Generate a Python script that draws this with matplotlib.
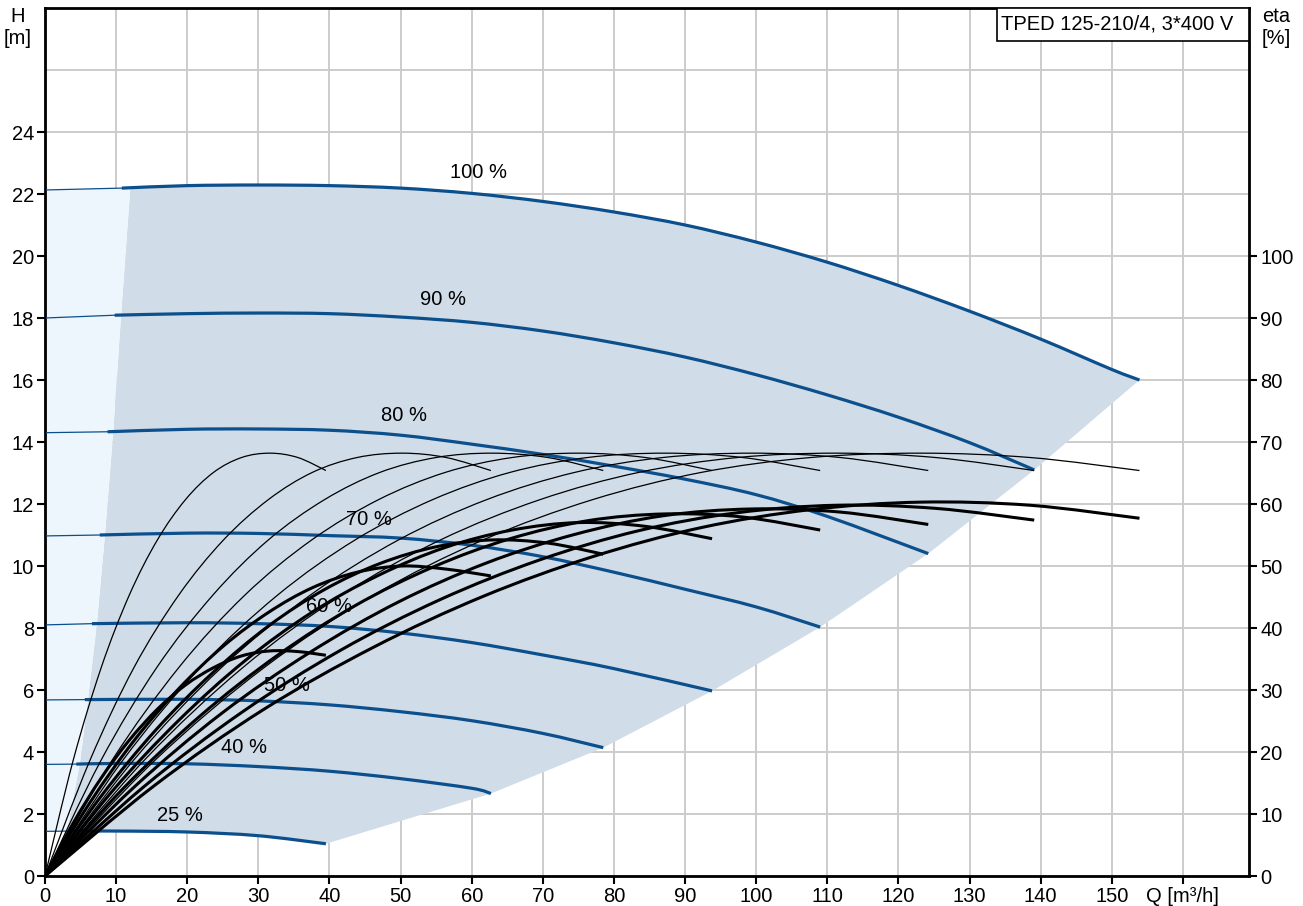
import matplotlib.pyplot as plt
import numpy as np
from matplotlib.patches import Rectangle, PathPatch
from matplotlib.path import Path

plt.rcParams['font.family'] = ['Liberation Sans', 'DejaVu Sans']

# speed curves: Q [m3/h], H [m]
speeds = ['100 %', '90 %', '80 %', '70 %', '60 %', '50 %', '40 %', '25 %']
q_100 = [0, 10.8, 20, 30, 40, 50, 60, 70, 80, 90, 100, 110, 120, 130, 140, 150, 153.9]
h_100 = [22.13, 22.19, 22.27, 22.29, 22.27, 22.19, 22.02, 21.76, 21.42, 21.0, 20.45, 19.8, 19.05, 18.22, 17.32, 16.34, 16.0]
q_90 = [0, 9.8, 20, 30, 40, 50, 60, 70, 80, 90, 100, 110, 120, 130, 139.1]
h_90 = [18.0, 18.09, 18.14, 18.16, 18.14, 18.03, 17.86, 17.58, 17.2, 16.74, 16.17, 15.52, 14.8, 13.98, 13.1]
q_80 = [0, 8.8, 20, 30, 40, 50, 60, 70, 80, 90, 100, 110, 124.2]
h_80 = [14.3, 14.33, 14.41, 14.42, 14.38, 14.22, 13.93, 13.6, 13.22, 12.8, 12.3, 11.6, 10.4]
q_70 = [0, 7.7, 20, 30, 40, 50, 60, 70, 80, 90, 100, 109]
h_70 = [10.97, 11.0, 11.06, 11.05, 10.98, 10.9, 10.67, 10.3, 9.8, 9.25, 8.68, 8.03]
q_60 = [0, 6.6, 20, 30, 40, 50, 60, 70, 80, 93.8]
h_60 = [8.1, 8.14, 8.17, 8.14, 8.05, 7.84, 7.53, 7.13, 6.69, 5.97]
q_50 = [0, 5.6, 20, 30, 40, 50, 60, 70, 78.5]
h_50 = [5.68, 5.69, 5.70, 5.65, 5.52, 5.3, 5.01, 4.6, 4.14]
q_40 = [0, 4.4, 10, 20, 30, 40, 50, 60, 62.7]
h_40 = [3.6, 3.61, 3.63, 3.62, 3.53, 3.38, 3.14, 2.83, 2.66]
q_25 = [0, 3.9, 10, 20, 30, 39.5]
h_25 = [1.44, 1.45, 1.45, 1.42, 1.3, 1.04]

# where each speed label sits (Q, H)
label_q = [61, 56, 50.5, 45.5, 40, 34, 28, 19]
label_h = [22.7, 18.6, 14.85, 11.5, 8.7, 6.15, 4.15, 1.95]

# min / max flow limits of the operating area
qmin_q = [3.1, 4.9, 6.05, 7.3, 8.45, 9.6, 10.7, 12.0]
qmin_h = [1.45, 3.62, 5.7, 8.15, 11.05, 14.35, 18.1, 22.2]
qmax_q = [153.9, 139.1, 124.2, 109, 93.8, 78.5, 62.7, 39.5]
qmax_h = [16.0, 13.1, 10.4, 8.03, 5.97, 4.14, 2.66, 1.04]

# efficiency curves eta [%], pump (thin) and total (thick)
eq_100 = [0, 15.4, 30.8, 46.2, 61.6, 77.0, 92.3, 107.7, 123.1, 138.5, 153.9]
eq_90 = [0, 13.9, 27.8, 41.7, 55.6, 69.6, 83.5, 97.4, 111.3, 125.2, 139.1]
eq_80 = [0, 12.4, 24.8, 37.3, 49.7, 62.1, 74.5, 86.9, 99.4, 111.8, 124.2]
eq_70 = [0, 10.9, 21.8, 32.7, 43.6, 54.5, 65.4, 76.3, 87.2, 98.1, 109]
eq_60 = [0, 9.4, 18.8, 28.1, 37.5, 46.9, 56.3, 65.7, 75.0, 84.4, 93.8]
eq_50 = [0, 7.85, 15.7, 23.6, 31.4, 39.3, 47.1, 55.0, 62.8, 70.7, 78.5]
eq_40 = [0, 6.3, 12.5, 18.8, 25.1, 31.4, 37.6, 43.9, 50.2, 56.4, 62.7]
eq_25 = [0, 3.95, 7.9, 11.85, 15.8, 19.75, 23.7, 27.65, 31.6, 35.55, 39.5]
eta_pump = [0, 18.6, 33.6, 45.3, 54.2, 60.7, 65.1, 67.5, 68.2, 67.5, 65.4]
eta_tot_100 = [0, 14.6, 26.9, 36.9, 45.1, 51.5, 56.2, 59.1, 60.3, 59.8, 57.7]
eta_tot_90 = [0, 14.4, 26.5, 36.5, 44.6, 51.0, 55.7, 58.6, 59.8, 59.3, 57.4]
eta_tot_80 = [0, 14.2, 26.2, 36.1, 44.2, 50.5, 55.1, 58.1, 59.2, 58.7, 56.7]
eta_tot_70 = [0, 14.0, 25.8, 35.6, 43.6, 49.8, 54.4, 57.3, 58.4, 57.9, 55.8]
eta_tot_60 = [0, 13.6, 25.1, 34.7, 42.5, 48.5, 53.0, 55.8, 57.0, 56.4, 54.4]
eta_tot_50 = [0, 12.8, 23.7, 32.8, 40.3, 46.2, 50.4, 53.1, 54.2, 53.7, 51.9]
eta_tot_40 = [0, 11.8, 21.8, 30.2, 37.1, 42.5, 46.5, 49.0, 50.0, 49.5, 48.4]
eta_tot_25 = [0, 8.5, 15.8, 21.9, 26.9, 30.8, 33.6, 35.5, 36.3, 36.2, 35.6]

h_curves = [(q_100, h_100), (q_90, h_90), (q_80, h_80), (q_70, h_70),
            (q_60, h_60), (q_50, h_50), (q_40, h_40), (q_25, h_25)]
eta_q = [eq_100, eq_90, eq_80, eq_70, eq_60, eq_50, eq_40, eq_25]
eta_tot = [eta_tot_100, eta_tot_90, eta_tot_80, eta_tot_70,
           eta_tot_60, eta_tot_50, eta_tot_40, eta_tot_25]

BLUE = '#0b4f8c'
FS = 14.5


def smooth(ax, x, y, **kw):
    # bezier path through every point (catmull-rom tangents)
    p = np.column_stack([x, y]).astype(float)
    ext = np.vstack([p[0], p, p[-1]])
    verts = [p[0]]
    for i in range(len(p) - 1):
        p0, p1, p2, p3 = ext[i], ext[i + 1], ext[i + 2], ext[i + 3]
        verts += [p1 + (p2 - p0) / 6, p2 - (p3 - p1) / 6, p2]
    codes = [Path.MOVETO] + [Path.CURVE4] * (len(verts) - 1)
    ax.add_patch(PathPatch(Path(verts, codes), fill=False, **kw))


fig = plt.figure(figsize=(13.03, 9.06), dpi=100)
ax = fig.add_axes([45 / 1303, 30 / 906, 1204 / 1303, 868 / 906])
ax.set_xlim(0, 169.3)
ax.set_ylim(0, 28)

# operating area
q100 = np.array(q_100)
h100 = np.array(h_100)
q25 = np.array(q_25)
h25 = np.array(h_25)
top = q100 > qmin_q[-1]
bot = q25 > qmin_q[0]
dark_x = qmin_q + list(q100[top]) + qmax_q[1:] + list(q25[bot][::-1])
dark_y = qmin_h + list(h100[top]) + qmax_h[1:] + list(h25[bot][::-1])
ax.fill(dark_x, dark_y, color='#d0dce8', lw=0, zorder=1)
light_x = [0, 0] + qmin_q[::-1]
light_y = [h25[0], h100[0]] + qmin_h[::-1]
ax.fill(light_x, light_y, color='#eef6fd', lw=0, zorder=1)

for (q, h), name, lq, lh in zip(h_curves, speeds, label_q, label_h):
    ax.plot(q[:2], h[:2], color=BLUE, lw=0.9, zorder=3)
    smooth(ax, q[1:], h[1:], edgecolor=BLUE, lw=2.3, zorder=3, capstyle='butt')
    ax.text(lq, lh, name, fontsize=FS, ha='center', va='center', zorder=5)

ax.set_xticks(np.arange(0, 170, 10))
ax.set_xticklabels([str(v) for v in range(0, 160, 10)] + ['Q [m³/h]'])
ax.set_yticks(np.arange(0, 26, 2))
ax.set_yticks([26, 28], minor=True)
ax.tick_params(axis='y', which='minor', length=0)
ax.grid(True, which='both', color='#cccccc', lw=1.4)
ax.set_axisbelow(True)
ax.tick_params(direction='out', length=6, width=1.5, labelsize=FS, pad=2)
for s in ax.spines.values():
    s.set_linewidth(2)

ax2 = ax.twinx()
ax2.set_ylim(0, 140)
ax2.set_yticks(np.arange(0, 110, 10))
ax2.tick_params(direction='out', length=6, width=1.5, labelsize=FS, pad=2)
for q, et in zip(eta_q, eta_tot):
    smooth(ax2, q, eta_pump, edgecolor='black', lw=0.9)
    smooth(ax2, q, et, edgecolor='black', lw=2.2)

fig.text(18 / 1303, 1 - 7 / 906, 'H\n[m]', ha='center', va='top', fontsize=FS, linespacing=1.2)
fig.text(1276 / 1303, 1 - 7 / 906, 'eta\n[%]', ha='center', va='top', fontsize=FS, linespacing=1.2)

ax2.add_patch(Rectangle((952 / 1204, 1 - 33 / 868), 252 / 1204, 33 / 868, transform=ax2.transAxes,
                        facecolor='white', edgecolor='black', lw=1.2, zorder=6))
ax2.text(956 / 1204, 1 - 16.5 / 868, 'TPED 125-210/4, 3*400 V', transform=ax2.transAxes,
         fontsize=FS, ha='left', va='center', zorder=7)

fig.savefig('out.png', dpi=100)
